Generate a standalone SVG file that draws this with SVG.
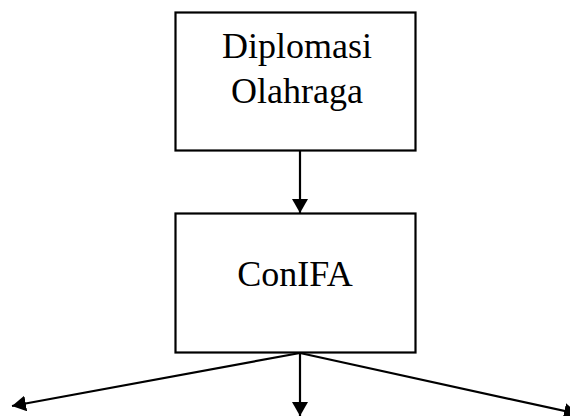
<svg xmlns="http://www.w3.org/2000/svg" width="570" height="416" viewBox="0 0 570 416">
<style>
.box{fill:#fff;stroke:#000;stroke-width:2.2}
.lbl{font-family:"Liberation Serif","Times New Roman",serif;font-size:36px;fill:#000;text-anchor:middle}
.con{stroke:#000;stroke-width:2.2;fill:none}
</style>
<defs>
<marker id="ah" viewBox="0 0 14 16" refX="14" refY="8" markerWidth="14" markerHeight="16" markerUnits="userSpaceOnUse" orient="auto">
<path d="M0,0 L14,8 L0,16 Z" fill="#000"/>
</marker>
</defs>
<rect width="570" height="416" fill="#fff"/>
<g id="connectors">
<line class="con" x1="300" y1="151" x2="300" y2="213" marker-end="url(#ah)"/>
<line class="con" x1="300" y1="353" x2="300" y2="416" marker-end="url(#ah)"/>
<line class="con" x1="300" y1="353" x2="12" y2="406" marker-end="url(#ah)"/>
<line class="con" x1="300" y1="353" x2="578" y2="414" marker-end="url(#ah)"/>
</g>
<g id="node-diplomasi">
<rect class="box" x="175.5" y="12.5" width="240" height="138"/>
<text class="lbl" x="297" y="58">Diplomasi</text>
<text class="lbl" x="297" y="103">Olahraga</text>
</g>
<g id="node-conifa">
<rect class="box" x="175.5" y="213.5" width="240" height="139"/>
<text class="lbl" x="295" y="286">ConIFA</text>
</g>
</svg>
